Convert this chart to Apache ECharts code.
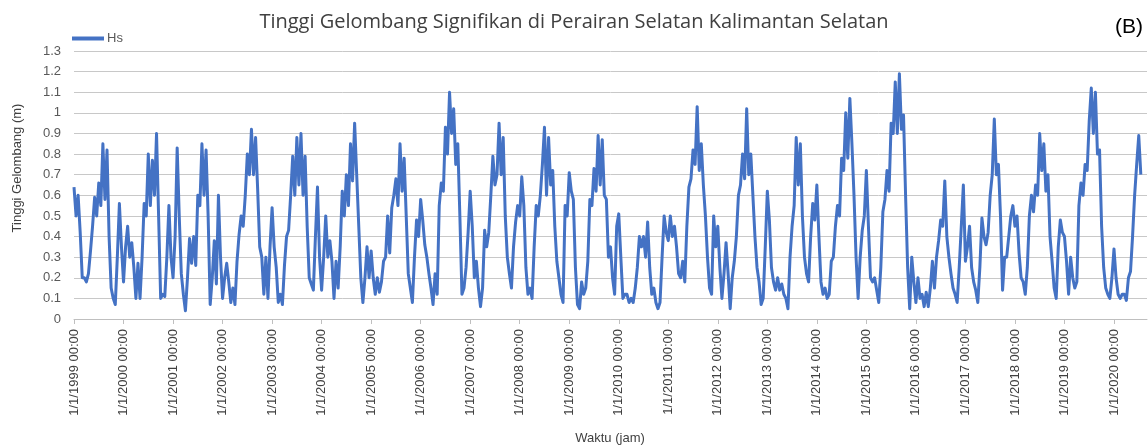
<!DOCTYPE html>
<html>
<head>
<meta charset="utf-8">
<script src="https://cdn.jsdelivr.net/npm/echarts@6/dist/echarts.min.js"></script>
<style>
html,body{margin:0;padding:0;background:#fff;}
#c{width:1148px;height:448px;}
</style>
</head>
<body>
<div id="c"></div>
<script>
// Half-monthly significant wave height (m), per year
const hs1999 = [0.64,0.50,0.60,0.42,0.20,0.20,0.18,0.22,0.33,0.45,0.59,0.50,0.66,0.55,0.85,0.58,0.82,0.40,0.15,0.10,0.07,0.30,0.56,0.35];
const hs2000 = [0.18,0.35,0.45,0.30,0.37,0.25,0.10,0.27,0.10,0.30,0.56,0.50,0.80,0.55,0.77,0.60,0.90,0.50,0.10,0.12,0.11,0.30,0.55,0.30];
const hs2001 = [0.20,0.40,0.83,0.50,0.22,0.12,0.04,0.20,0.39,0.27,0.40,0.26,0.60,0.55,0.85,0.60,0.82,0.50,0.07,0.20,0.38,0.17,0.60,0.30];
const hs2002 = [0.10,0.20,0.27,0.18,0.08,0.15,0.07,0.28,0.41,0.50,0.45,0.60,0.80,0.70,0.92,0.70,0.88,0.63,0.35,0.30,0.12,0.30,0.10,0.35];
const hs2003 = [0.54,0.35,0.25,0.08,0.12,0.07,0.26,0.40,0.43,0.60,0.79,0.60,0.88,0.65,0.90,0.60,0.79,0.45,0.20,0.17,0.14,0.40,0.64,0.30];
const hs2004 = [0.14,0.30,0.50,0.30,0.38,0.28,0.10,0.28,0.15,0.35,0.62,0.50,0.70,0.55,0.85,0.67,0.95,0.70,0.45,0.20,0.08,0.20,0.35,0.20];
const hs2005 = [0.33,0.20,0.12,0.20,0.13,0.18,0.28,0.30,0.50,0.32,0.54,0.60,0.68,0.55,0.85,0.62,0.78,0.50,0.22,0.15,0.08,0.30,0.48,0.40];
const hs2006 = [0.58,0.48,0.36,0.30,0.22,0.15,0.07,0.22,0.12,0.55,0.66,0.62,0.93,0.80,1.10,0.90,1.02,0.75,0.85,0.50,0.12,0.15,0.25,0.42];
const hs2007 = [0.62,0.45,0.20,0.28,0.15,0.06,0.15,0.43,0.35,0.42,0.60,0.79,0.65,0.70,0.95,0.70,0.88,0.50,0.30,0.22,0.15,0.35,0.47,0.55];
const hs2008 = [0.50,0.69,0.55,0.25,0.12,0.15,0.10,0.35,0.55,0.50,0.60,0.75,0.93,0.60,0.88,0.65,0.72,0.45,0.28,0.20,0.12,0.08,0.55,0.50];
const hs2009 = [0.71,0.62,0.58,0.25,0.07,0.05,0.18,0.12,0.15,0.28,0.58,0.55,0.73,0.62,0.89,0.65,0.87,0.60,0.58,0.30,0.35,0.20,0.12,0.45];
const hs2010 = [0.51,0.30,0.10,0.12,0.12,0.08,0.10,0.08,0.15,0.25,0.40,0.35,0.40,0.30,0.47,0.25,0.12,0.15,0.08,0.05,0.08,0.30,0.50,0.42];
const hs2011 = [0.38,0.50,0.40,0.45,0.35,0.22,0.20,0.28,0.18,0.45,0.64,0.68,0.82,0.75,1.03,0.72,0.85,0.65,0.50,0.30,0.15,0.12,0.50,0.35];
const hs2012 = [0.45,0.25,0.10,0.22,0.37,0.22,0.05,0.20,0.28,0.40,0.60,0.65,0.80,0.68,1.02,0.70,0.80,0.60,0.40,0.25,0.18,0.07,0.10,0.35];
const hs2013 = [0.62,0.48,0.25,0.18,0.14,0.20,0.14,0.17,0.12,0.10,0.05,0.30,0.45,0.55,0.88,0.65,0.85,0.50,0.30,0.22,0.18,0.40,0.56,0.48];
const hs2014 = [0.65,0.40,0.18,0.12,0.15,0.10,0.12,0.28,0.30,0.45,0.55,0.50,0.78,0.72,1.00,0.78,1.07,0.85,0.60,0.30,0.10,0.30,0.43,0.50];
const hs2015 = [0.72,0.45,0.20,0.18,0.20,0.14,0.08,0.25,0.52,0.58,0.72,0.62,0.95,0.90,1.15,0.90,1.19,0.92,0.99,0.60,0.25,0.05,0.30,0.18];
const hs2016 = [0.08,0.20,0.10,0.12,0.06,0.13,0.06,0.15,0.28,0.15,0.30,0.38,0.48,0.45,0.67,0.40,0.30,0.22,0.15,0.12,0.08,0.25,0.45,0.65];
const hs2017 = [0.28,0.35,0.45,0.25,0.18,0.14,0.08,0.25,0.49,0.40,0.36,0.42,0.60,0.70,0.97,0.70,0.75,0.50,0.14,0.30,0.30,0.40,0.50,0.55];
const hs2018 = [0.45,0.50,0.32,0.20,0.18,0.12,0.25,0.50,0.60,0.52,0.65,0.60,0.90,0.72,0.85,0.62,0.70,0.40,0.28,0.15,0.10,0.35,0.48,0.42];
const hs2019 = [0.40,0.28,0.12,0.30,0.20,0.15,0.18,0.55,0.66,0.60,0.75,0.72,0.96,1.12,0.90,1.10,0.80,0.82,0.45,0.25,0.15,0.12,0.10,0.20];
const hs2020 = [0.34,0.20,0.12,0.10,0.12,0.12,0.09,0.20,0.23,0.40,0.60,0.75,0.89,0.70];

const years = [1999,2000,2001,2002,2003,2004,2005,2006,2007,2008,2009,2010,2011,2012,2013,2014,2015,2016,2017,2018,2019,2020];
const yearly = [hs1999,hs2000,hs2001,hs2002,hs2003,hs2004,hs2005,hs2006,hs2007,hs2008,hs2009,hs2010,hs2011,hs2012,hs2013,hs2014,hs2015,hs2016,hs2017,hs2018,hs2019,hs2020];
const stepsPerYear = 24;
const lastYearSteps = 17; // axis runs a little past the final record (to mid-Sep 2020)

const yTicks = {min: 0, max: 1.3, interval: 0.1};
const titleText = 'Tinggi Gelombang Signifikan di Perairan Selatan Kalimantan Selatan';
const panelLabel = '(B)';
const yName = 'Tinggi Gelombang (m)';
const xName = 'Waktu (jam)';
const seriesName = 'Hs';

const categories = [];
const values = [];
years.forEach((y, i) => {
  const n = (i === years.length - 1) ? lastYearSteps : stepsPerYear;
  for (let k = 0; k < n; k++) {
    const m = Math.floor(k / 2) + 1;
    const d = (k % 2) ? 16 : 1;
    categories.push(m + '/' + d + '/' + y + ' 00:00');
  }
  yearly[i].forEach(v => values.push(v));
});

const FONT = 'Liberation Sans';
const chart = echarts.init(document.getElementById('c'), null, {renderer: 'canvas'});
chart.setOption({
  animation: false,
  textStyle: {fontFamily: FONT},
  title: {
    text: titleText, left: 'center', top: 7,
    textStyle: {fontSize: 20, fontWeight: 'normal', color: '#404040', fontFamily: 'Open Sans'}
  },
  legend: {
    data: [seriesName], left: 67, top: 27, icon: 'rect', itemWidth: 32, itemHeight: 4, itemGap: 4,
    textStyle: {fontSize: 13, color: '#595959', fontFamily: FONT, padding: [0,0,0,-2]}
  },
  graphic: [
    {type: 'text', right: 5, top: 17, style: {text: panelLabel, fontSize: 21, fill: '#000', fontFamily: FONT}},
    {type: 'text', rotation: Math.PI / 2,
     style: {text: yName, fontSize: 13, fill: '#404040', fontFamily: FONT, align: 'center', verticalAlign: 'middle'},
     x: 17, y: 168},
    {type: 'text', style: {text: xName, fontSize: 13, fill: '#404040', fontFamily: FONT, align: 'center', verticalAlign: 'middle'},
     x: 610, y: 438}
  ],
  grid: {left: 74, right: 1, top: 51, bottom: 129, containLabel: false},
  xAxis: {
    type: 'category', data: categories, boundaryGap: false,
    axisLine: {lineStyle: {color: '#bfbfbf', width: 1}},
    axisTick: {show: true, interval: 23, length: 5, lineStyle: {color: '#bfbfbf'}},
    axisLabel: {interval: 23, rotate: 90, margin: 10, fontSize: 13, color: '#404040', fontFamily: FONT},
    splitLine: {show: false}
  },
  yAxis: {
    type: 'value', min: yTicks.min, max: yTicks.max, interval: yTicks.interval,
    axisLine: {show: false}, axisTick: {show: false},
    axisLabel: {margin: 13, fontSize: 13, color: '#595959', fontFamily: FONT,
      formatter: v => String(Math.round(v * 10) / 10)},
    splitLine: {lineStyle: {color: '#c8c8c8', width: 1}}
  },
  series: [{
    name: seriesName, type: 'line', data: values, symbol: 'none', smooth: false,
    lineStyle: {color: '#4472C4', width: 3, join: 'round'}, itemStyle: {color: '#4472C4'}
  }]
});
</script>
</body>
</html>
